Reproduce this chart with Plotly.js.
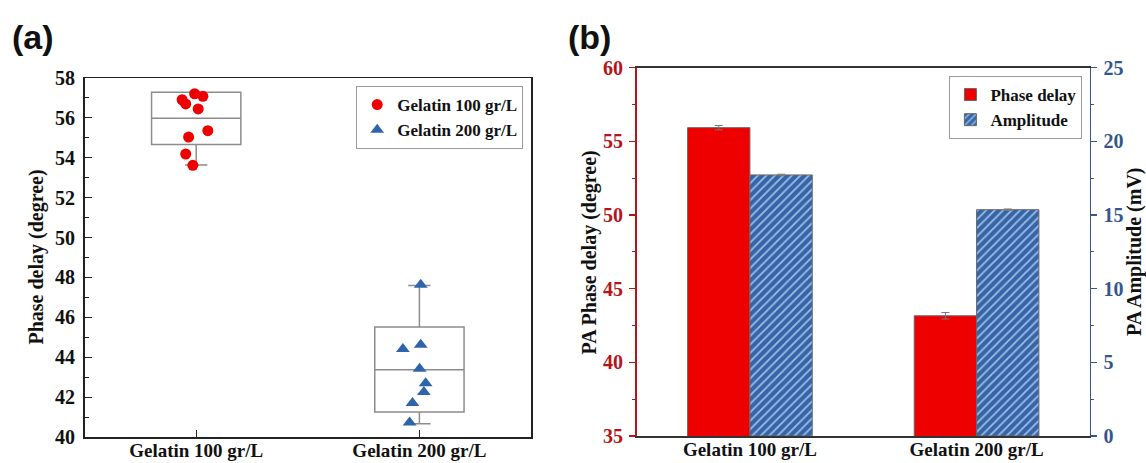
<!DOCTYPE html>
<html>
<head>
<meta charset="utf-8">
<script src="https://cdn.plot.ly/plotly-3.0.1.min.js"></script>
<style>
  html, body { margin: 0; padding: 0; background: #fff; }
  #chart { width: 1146px; height: 463px; }
</style>
</head>
<body>
<div id="chart"></div>
<script>
// ---------- data ----------
const categories = ['Gelatin 100 gr/L', 'Gelatin 200 gr/L'];

// panel (a): individual phase-delay measurements (degree)
const g100Phase  = [57.21, 57.08, 56.91, 56.70, 56.45, 55.36, 55.04, 54.19, 53.62];
const g100Jitter = [-0.007, 0.030, -0.063, -0.047, 0.009, 0.052, -0.034, -0.047, -0.015];
const g200Phase  = [47.63, 44.41, 44.63, 43.42, 42.70, 42.25, 41.70, 40.73];
const g200Jitter = [0.006, -0.074, 0.006, 0.001, 0.028, 0.020, -0.031, -0.044];

// panel (a): box statistics
const boxLowerFence = [53.64, 40.66];
const boxQ1         = [54.66, 41.25];
const boxMedian     = [55.98, 43.37];
const boxQ3         = [57.28, 45.51];
const boxUpperFence = [57.28, 47.60];

// panel (b): means and errors
const phaseMean = [55.93, 43.16];
const phaseErr  = [0.15, 0.22];
const ampMean   = [17.72, 15.36];
const ampErr    = [0.05, 0.05];

const yTicksA = [40, 42, 44, 46, 48, 50, 52, 54, 56, 58];

// ---------- styling ----------
const SERIF = 'Liberation Serif, Times New Roman, serif';
const W = 1146, H = 463;
const px = v => v / W;
const py = v => 1 - v / H;

const red = '#ee0000';
const darkRed = '#b5141b';
const blueAxis = '#34578a';

const traces = [];

// boxes (a)
categories.forEach((c, i) => {
  traces.push({
    type: 'box',
    x: [i],
    q1: [boxQ1[i]], median: [boxMedian[i]], q3: [boxQ3[i]],
    lowerfence: [boxLowerFence[i]], upperfence: [boxUpperFence[i]],
    width: 0.4,
    whiskerwidth: 0.25,
    boxpoints: false,
    fillcolor: 'rgba(0,0,0,0)',
    line: { color: '#8c8c8c', width: 1.5 },
    xaxis: 'x', yaxis: 'y',
    showlegend: false,
    hoverinfo: 'skip'
  });
});

// points (a)
traces.push({
  type: 'scatter', mode: 'markers',
  name: categories[0],
  x: g100Jitter.map(d => 0 + d),
  y: g100Phase,
  marker: { color: red, size: 11, symbol: 'circle' },
  xaxis: 'x', yaxis: 'y',
  legend: 'legend'
});
traces.push({
  type: 'scatter', mode: 'markers',
  name: categories[1],
  x: g200Jitter.map(d => 1 + d),
  y: g200Phase,
  marker: { color: '#2e64a8', size: 12, symbol: 'triangle-up' },
  xaxis: 'x', yaxis: 'y',
  legend: 'legend'
});

// bars (b)
traces.push({
  type: 'bar',
  name: 'Phase delay',
  x: categories,
  y: phaseMean,
  width: 0.275,
  offset: -0.275,
  marker: { color: red, line: { color: '#666', width: 1 } },
  error_y: { type: 'data', array: phaseErr, visible: true, color: '#777', thickness: 1, width: 4 },
  xaxis: 'x2', yaxis: 'y2',
  legend: 'legend2'
});
traces.push({
  type: 'bar',
  name: 'Amplitude',
  x: categories,
  y: ampMean,
  width: 0.275,
  offset: 0,
  marker: {
    color: '#3565a6',
    line: { color: '#666', width: 1 },
    pattern: { shape: '/', bgcolor: '#3565a6', fgcolor: '#9dbde6', size: 6, solidity: 0.3 }
  },
  error_y: { type: 'data', array: ampErr, visible: true, color: '#777', thickness: 1, width: 4 },
  xaxis: 'x2', yaxis: 'y3',
  legend: 'legend2'
});

const tickFont = { family: SERIF, size: 20, weight: 'bold', color: '#111' };
const xTickFont = { family: SERIF, size: 19, weight: 'bold', color: '#111' };
const titleFont = { family: SERIF, size: 20, weight: 'bold', color: '#111' };
const legendFont = { family: SERIF, size: 17, weight: 'bold', color: '#111' };

const layout = {
  width: W, height: H,
  margin: { l: 0, r: 0, t: 0, b: 0 },
  paper_bgcolor: '#fff',
  plot_bgcolor: '#fff',
  barmode: 'overlay',
  font: { family: SERIF },
  xaxis: {
    domain: [px(84.6), px(531)],
    range: [-0.5, 1.5],
    tickvals: [0, 1],
    ticktext: categories,
    ticks: 'inside', ticklen: 7, tickcolor: '#222', tickwidth: 1.2,
    showline: true, linecolor: '#222', linewidth: 1.5, mirror: true,
    showgrid: false, zeroline: false,
    tickfont: xTickFont,
    ticklabelstandoff: -4,
    anchor: 'y',
    automargin: false,
    fixedrange: true
  },
  yaxis: {
    domain: [py(437), py(78)],
    range: [40, 58],
    tickvals: yTicksA,
    ticks: 'inside', ticklen: 7, tickcolor: '#222', tickwidth: 1.2,
    minor: { dtick: 1, ticks: 'inside', ticklen: 4, tickcolor: '#222', tickwidth: 1, showgrid: false },
    showline: true, linecolor: '#222', linewidth: 1.5, mirror: true,
    showgrid: false, zeroline: false,
    tickfont: tickFont,
    ticklabelstandoff: 4,
    anchor: 'x',
    automargin: false,
    fixedrange: true
  },
  xaxis2: {
    domain: [px(636.6), px(1089.9)],
    type: 'category',
    range: [-0.5, 1.5],
    ticks: '',
    showline: true, linecolor: '#333', linewidth: 1.5, mirror: true,
    showgrid: false, zeroline: false,
    tickfont: xTickFont,
    ticklabelstandoff: -4,
    anchor: 'y2',
    automargin: false,
    fixedrange: true
  },
  yaxis2: {
    domain: [py(436), py(67.7)],
    range: [35, 60],
    dtick: 5,
    ticks: 'outside', ticklen: 6, tickcolor: darkRed, tickwidth: 1.2,
    minor: { dtick: 2.5, ticks: 'outside', ticklen: 3, tickcolor: darkRed, tickwidth: 1, showgrid: false },
    showline: true, linecolor: darkRed, linewidth: 1.5,
    showgrid: false, zeroline: false,
    tickfont: Object.assign({}, tickFont, { color: darkRed }),
    ticklabelstandoff: 2,
    anchor: 'x2',
    automargin: false,
    fixedrange: true
  },
  yaxis3: {
    overlaying: 'y2',
    side: 'right',
    anchor: 'x2',
    range: [0, 25],
    dtick: 5,
    ticks: 'outside', ticklen: 6, tickcolor: blueAxis, tickwidth: 1.2,
    minor: { dtick: 2.5, ticks: 'outside', ticklen: 3, tickcolor: blueAxis, tickwidth: 1, showgrid: false },
    showline: true, linecolor: blueAxis, linewidth: 1.5,
    showgrid: false, zeroline: false,
    tickfont: Object.assign({}, tickFont, { color: blueAxis }),
    ticklabelstandoff: 2,
    automargin: false,
    fixedrange: true
  },
  legend: {
    x: px(523.2), xanchor: 'right',
    y: py(86), yanchor: 'top',
    bgcolor: '#fff', bordercolor: '#9a9a9a', borderwidth: 1,
    font: legendFont,
    tracegroupgap: 0, itemwidth: 30
  },
  legend2: {
    x: px(1082.4), xanchor: 'right',
    y: py(76), yanchor: 'top',
    bgcolor: '#fff', bordercolor: '#9a9a9a', borderwidth: 1,
    font: legendFont,
    tracegroupgap: 0, itemwidth: 30
  },
  annotations: [
    { text: '(a)', xref: 'paper', yref: 'paper', x: px(10), y: py(37), xanchor: 'left', yanchor: 'middle',
      showarrow: false, font: { family: 'Liberation Sans, Arial, sans-serif', size: 34, weight: 'bold', color: '#111' } },
    { text: '(b)', xref: 'paper', yref: 'paper', x: px(566), y: py(37), xanchor: 'left', yanchor: 'middle',
      showarrow: false, font: { family: 'Liberation Sans, Arial, sans-serif', size: 34, weight: 'bold', color: '#111' } },
    { text: 'Phase delay (degree)', xref: 'paper', yref: 'paper', x: px(36), y: py(257.5), textangle: -90,
      xanchor: 'center', yanchor: 'middle', showarrow: false, font: titleFont },
    { text: 'PA Phase delay (degree)', xref: 'paper', yref: 'paper', x: px(589), y: py(252.5), textangle: -90,
      xanchor: 'center', yanchor: 'middle', showarrow: false, font: titleFont },
    { text: 'PA Amplitude (mV)', xref: 'paper', yref: 'paper', x: px(1134), y: py(252), textangle: -90,
      xanchor: 'center', yanchor: 'middle', showarrow: false, font: titleFont }
  ]
};

Plotly.newPlot('chart', traces, layout, { staticPlot: true, displayModeBar: false });
</script>
</body>
</html>
